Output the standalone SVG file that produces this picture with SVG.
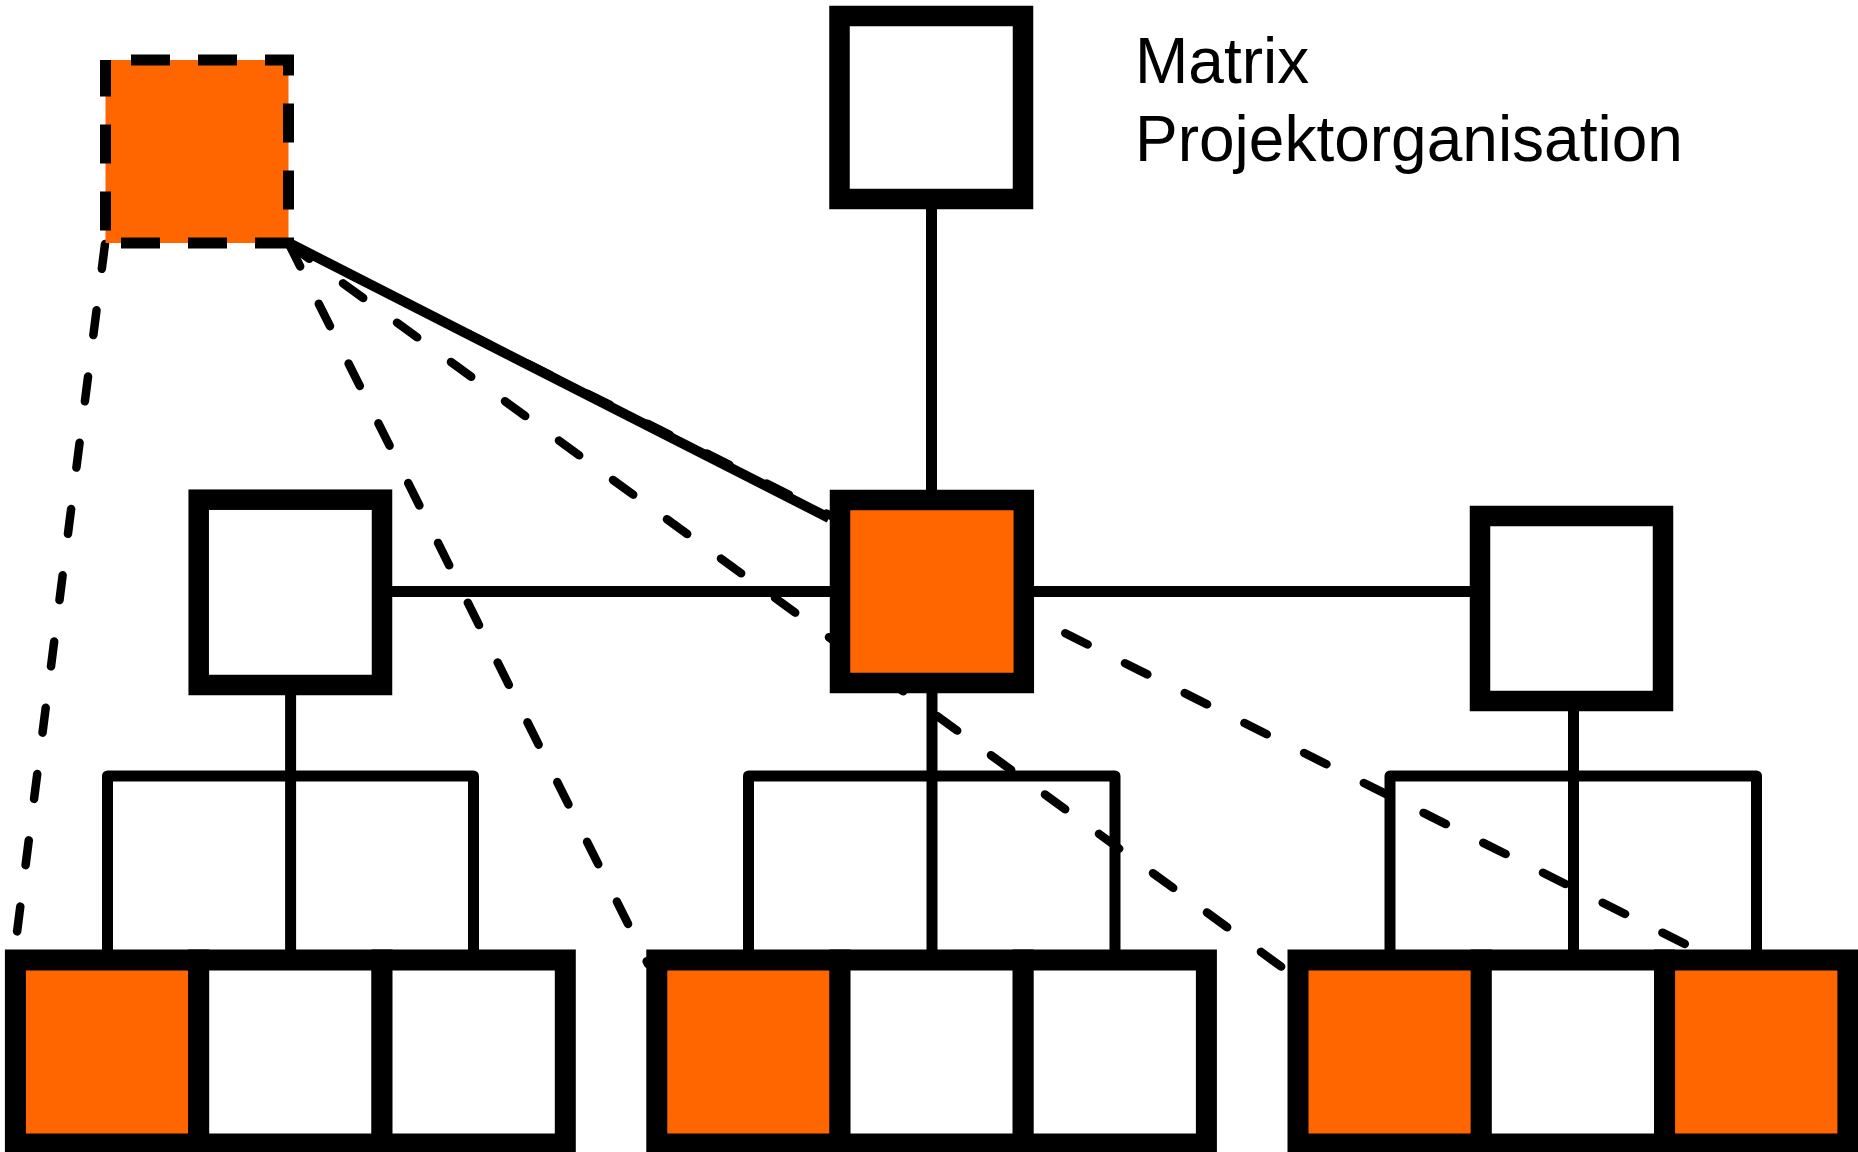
<svg xmlns="http://www.w3.org/2000/svg" width="1858" height="1152" viewBox="0 0 1858 1152">
<style>
.box{fill:#FFFFFF;stroke:#000000;stroke-width:20.5}
.cell{fill:#FFFFFF;stroke:#000000;stroke-width:21}
.or{fill:#FF6600}
.ln{fill:none;stroke:#000000;stroke-width:11;stroke-linejoin:round}
.dl{fill:none;stroke:#000000;stroke-width:8.5;stroke-linecap:round;stroke-dasharray:25 41.8}
.sl{fill:none;stroke:#000000;stroke-width:10}
.lbl{font-family:"Liberation Sans",Arial,sans-serif;font-size:64px;fill:#000000}
</style>
<rect width="1858" height="1152" fill="#FFFFFF"/>
<g id="connectors">
  <path class="dl" d="M105,244 L15,948"/>
  <path class="dl" d="M289,244 L648,964"/>
  <path class="dl" d="M289,244 L1290,973"/>
  <path class="dl" d="M289,244 L1693,948"/>
  <path class="sl" d="M289,243 L829,518"/>
  <path class="ln" d="M931.5,199 V500"/>
  <path class="ln" d="M382,591.5 H1480"/>
  <path class="ln" d="M290.6,685 V960 M107.5,960 V776 H473.5 V960"/>
  <path class="ln" d="M932,683 V960 M748.5,960 V776 H1115 V960"/>
  <path class="ln" d="M1573.5,701 V960 M1390,960 V776 H1756.5 V960"/>
</g>
<g id="project-lead">
  <rect x="105.5" y="60" width="183" height="183" fill="#FF6600" stroke="#000000" stroke-width="11" stroke-dasharray="39 28" stroke-dashoffset="41.5"/>
</g>
<g id="top">
  <rect class="box" x="839.5" y="16" width="183.5" height="183"/>
</g>
<g id="mid-left">
  <rect class="box" x="198.7" y="499.7" width="183.3" height="185.3"/>
</g>
<g id="mid-center">
  <rect class="box or" x="840" y="500" width="183.8" height="183"/>
</g>
<g id="mid-right">
  <rect class="box" x="1480" y="516" width="183" height="185"/>
</g>
<g id="bottom-left">
  <rect class="cell or" x="15.4" y="960" width="183.3" height="184"/>
  <rect class="cell" x="198.7" y="960" width="183.3" height="184"/>
  <rect class="cell" x="382" y="960" width="183.3" height="184"/>
</g>
<g id="bottom-center">
  <rect class="cell or" x="656.8" y="960" width="183.2" height="184"/>
  <rect class="cell" x="840" y="960" width="183.2" height="184"/>
  <rect class="cell" x="1023.2" y="960" width="183.2" height="184"/>
</g>
<g id="bottom-right">
  <rect class="cell or" x="1298" y="960" width="183.3" height="184"/>
  <rect class="cell" x="1481.3" y="960" width="183.3" height="184"/>
  <rect class="cell or" x="1664.6" y="960" width="183.3" height="184"/>
</g>
<g id="title">
  <text class="lbl" x="1135" y="83.3">Matrix</text>
  <text class="lbl" x="1135" y="160.7">Projektorganisation</text>
</g>
</svg>
